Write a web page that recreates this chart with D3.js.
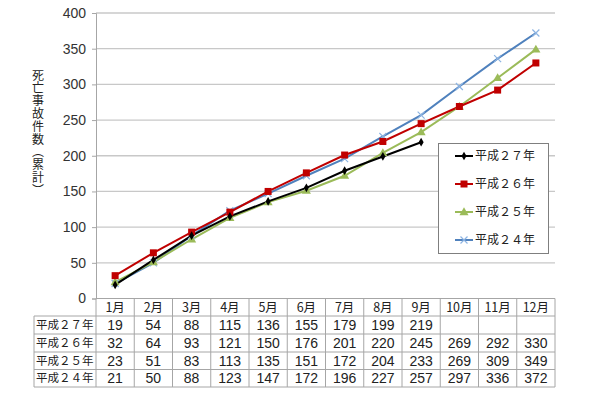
<!DOCTYPE html>
<html lang="ja">
<head>
<meta charset="utf-8">
<script src="https://d3js.org/d3.v7.min.js"></script>
<style>
body{margin:0;background:#fff;font-family:"Noto Sans CJK JP",sans-serif;}
</style>
</head>
<body>
<div id="chart"></div>
<script>
// data
var months = ["1月","2月","3月","4月","5月","6月","7月","8月","9月","10月","11月","12月"]
var yTicks = [0,50,100,150,200,250,300,350,400]
var seriesNames = ["平成２７年","平成２６年","平成２５年","平成２４年"]
var h27 = [19,54,88,115,136,155,179,199,219]
var h26 = [32,64,93,121,150,176,201,220,245,269,292,330]
var h25 = [23,51,83,113,135,151,172,204,233,269,309,349]
var h24 = [21,50,88,123,147,172,196,227,257,297,336,372]

var series = [
  {name:seriesNames[0], values:h27, color:"#000000", marker:"diamond"},
  {name:seriesNames[1], values:h26, color:"#C00000", marker:"square"},
  {name:seriesNames[2], values:h25, color:"#9BBB59", marker:"triangle"},
  {name:seriesNames[3], values:h24, color:"#4F81BD", marker:"cross"}
]

var W = 600, H = 393
var pLeft = 96, pRight = 555, pTop = 13, pBottom = 298.5

var svg = d3.select("#chart").append("svg").attr("width",W).attr("height",H)

var x = d3.scaleBand().domain(months).range([pLeft,pRight])
var y = d3.scaleLinear().domain([0,400]).range([pBottom,pTop])

// gridlines
svg.append("g").selectAll("line").data(yTicks.filter(function(d){return d>0})).enter().append("line")
  .attr("x1",pLeft).attr("x2",pRight)
  .attr("y1",function(d){return y(d)}).attr("y2",function(d){return y(d)})
  .attr("stroke","#C8C8C8").attr("stroke-width",1.3)

// y axis
var yAxis = d3.axisLeft(y).tickValues(yTicks).tickSize(4).tickPadding(6)
var ga = svg.append("g").attr("transform","translate("+pLeft+",0)").call(yAxis)
ga.select(".domain").attr("stroke","#A6A6A6")
ga.selectAll(".tick line").attr("stroke","#A6A6A6")
ga.selectAll("text").attr("font-size","14px").attr("fill","#333").attr("font-family","Liberation Sans, Arial, sans-serif")

// y axis title, vertical writing
svg.append("text")
  .attr("x",38).attr("y",69)
  .style("writing-mode","vertical-rl")
  .attr("font-size","12px").attr("fill","#222")
  .attr("letter-spacing","0.8px")
  .text("死亡事故件数（累計）")

// lines
var line = d3.line()
  .x(function(d,i){return x(months[i])+x.bandwidth()/2})
  .y(function(d){return y(d)})

var order = [3,2,1,0]
order.forEach(function(k){
  var s = series[k]
  svg.append("path").datum(s.values).attr("d",line)
    .attr("fill","none").attr("stroke",s.color).attr("stroke-width",2)
})

function drawMarker(g,type,cx,cy,color){
  if(type=="diamond"){
    g.append("path").attr("d",d3.symbol().type(d3.symbolDiamond).size(22)())
      .attr("transform","translate("+cx+","+cy+")").attr("fill",color)
  } else if(type=="square"){
    g.append("rect").attr("x",cx-3.5).attr("y",cy-3.5).attr("width",7).attr("height",7).attr("fill",color)
  } else if(type=="triangle"){
    g.append("path").attr("d",d3.symbol().type(d3.symbolTriangle).size(36)())
      .attr("transform","translate("+cx+","+(cy+0.5)+")").attr("fill",color)
  } else {
    g.append("path").attr("d","M"+(cx-3.5)+","+(cy-3.5)+"L"+(cx+3.5)+","+(cy+3.5)+"M"+(cx-3.5)+","+(cy+3.5)+"L"+(cx+3.5)+","+(cy-3.5))
      .attr("stroke","#8DB4E2").attr("stroke-width",1.2)
  }
}

order.forEach(function(k){
  var s = series[k]
  var g = svg.append("g")
  s.values.forEach(function(v,i){
    drawMarker(g,s.marker,x(months[i])+x.bandwidth()/2,y(v),s.color)
  })
})

// x axis line
svg.append("line").attr("x1",pLeft).attr("x2",pRight).attr("y1",pBottom).attr("y2",pBottom)
  .attr("stroke","#A6A6A6").attr("stroke-width",1)

// legend
var lg = svg.append("g")
lg.append("rect").attr("x",438.5).attr("y",143.5).attr("width",110).attr("height",110)
  .attr("fill","#fff").attr("stroke","#7F7F7F").attr("stroke-width",1)
series.forEach(function(s,i){
  var ly = 156 + i*28
  lg.append("line").attr("x1",455).attr("x2",473).attr("y1",ly).attr("y2",ly)
    .attr("stroke",s.color).attr("stroke-width",2)
  drawMarker(lg,s.marker,464,ly,s.color)
  lg.append("text").attr("x",475).attr("y",ly).attr("dy","0.36em")
    .attr("font-size","12px").attr("fill","#222").text(s.name)
})

// data table
var labelX = 34
var rowTops = [298.5,316,334,352,369.5,387]
var tbl = svg.append("g")
var gridColor = "#A6A6A6"
// horizontal lines
rowTops.slice(1).forEach(function(ry){
  tbl.append("line").attr("x1",labelX).attr("x2",pRight).attr("y1",ry).attr("y2",ry)
    .attr("stroke",gridColor).attr("stroke-width",1)
})
// vertical lines
tbl.append("line").attr("x1",labelX).attr("x2",labelX).attr("y1",rowTops[1]).attr("y2",rowTops[5]).attr("stroke",gridColor)
months.forEach(function(m){
  tbl.append("line").attr("x1",x(m)).attr("x2",x(m)).attr("y1",rowTops[0]).attr("y2",rowTops[5]).attr("stroke",gridColor)
})
tbl.append("line").attr("x1",pRight).attr("x2",pRight).attr("y1",rowTops[0]).attr("y2",rowTops[5]).attr("stroke",gridColor)

// header
months.forEach(function(m){
  tbl.append("text").attr("x",x(m)+x.bandwidth()/2).attr("y",(rowTops[0]+rowTops[1])/2).attr("dy","0.36em")
    .attr("text-anchor","middle").attr("font-size","12.5px").attr("fill","#222").text(m)
})
// rows
series.forEach(function(s,r){
  var cy = (rowTops[r+1]+rowTops[r+2])/2
  tbl.append("text").attr("x",labelX+2).attr("y",cy).attr("dy","0.36em")
    .attr("font-size","11.5px").attr("fill","#222").text(s.name)
  s.values.forEach(function(v,i){
    tbl.append("text").attr("x",x(months[i])+x.bandwidth()/2).attr("y",cy).attr("dy","0.36em")
      .attr("text-anchor","middle").attr("font-size","14px").attr("fill","#222")
      .attr("font-family","Liberation Sans, Arial, sans-serif").text(v)
  })
})
</script>
</body>
</html>
